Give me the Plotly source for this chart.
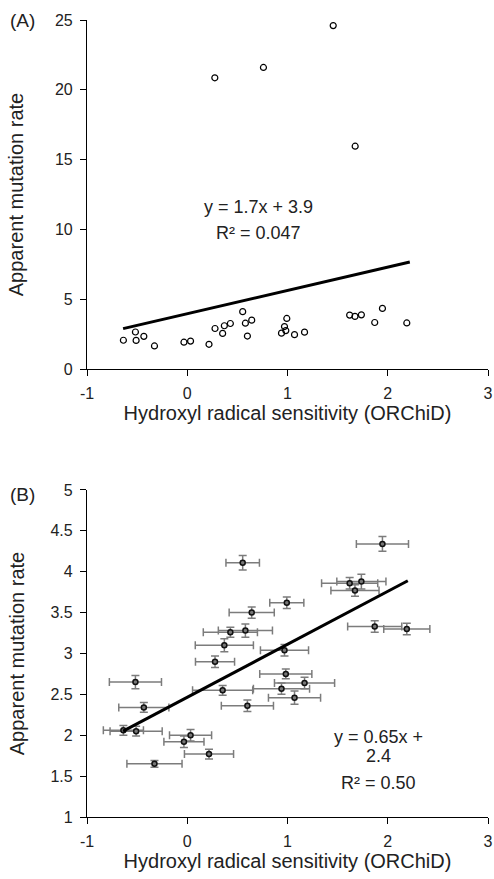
import plotly.graph_objects as go
from plotly.subplots import make_subplots

# ORChiD sensitivity vs apparent mutation rate (panel B points, with SE)
orchid = [-0.637, -0.517, -0.51, -0.433, -0.327, -0.033, 0.033, 0.217, 0.277, 0.353,
          0.37, 0.43, 0.553, 0.58, 0.60, 0.643, 0.94, 0.97, 0.983, 0.993,
          1.07, 1.17, 1.62, 1.673, 1.737, 1.87, 1.947, 2.19]
mut_rate = [2.06, 2.65, 2.05, 2.34, 1.65, 1.92, 2.00, 1.77, 2.90, 2.55,
            3.10, 3.26, 4.11, 3.28, 2.36, 3.50, 2.57, 3.04, 2.75, 3.62,
            2.46, 2.64, 3.86, 3.77, 3.88, 3.33, 4.34, 3.30]
orchid_err = [0.20, 0.26, 0.26, 0.25, 0.275, 0.20, 0.21, 0.245, 0.195, 0.30,
              0.29, 0.27, 0.167, 0.27, 0.26, 0.225, 0.28, 0.24, 0.26, 0.17,
              0.26, 0.30, 0.28, 0.24, 0.245, 0.27, 0.26, 0.23]
rate_err = [0.06, 0.08, 0.06, 0.06, 0.04, 0.07, 0.07, 0.06, 0.07, 0.06,
            0.08, 0.06, 0.09, 0.08, 0.07, 0.07, 0.07, 0.07, 0.06, 0.07,
            0.08, 0.07, 0.07, 0.07, 0.09, 0.07, 0.09, 0.07]

# extra high points shown only in panel A
outlier_x = [0.275, 0.76, 1.456, 1.675]
outlier_y = [20.86, 21.6, 24.6, 15.96]

# fitted lines (end points)
fit_a_x = [-0.64, 2.22]
fit_a_y = [2.89, 7.67]
fit_b_x = [-0.64, 2.2]
fit_b_y = [2.05, 3.89]

x_ticks = [-1, 0, 1, 2, 3]
x_ticktext = ['-1', '0', '1', '2', '3']

FONT = "Liberation Sans, Arial, Helvetica, sans-serif"

fig = make_subplots(rows=2, cols=1, vertical_spacing=0.15)

fig.add_trace(go.Scatter(
    x=orchid + outlier_x, y=mut_rate + outlier_y, mode='markers',
    marker=dict(symbol='circle-open', size=6, color='black', line=dict(width=1.2))
), row=1, col=1)
fig.add_trace(go.Scatter(
    x=fit_a_x, y=fit_a_y, mode='lines', line=dict(color='black', width=3)
), row=1, col=1)

fig.add_trace(go.Scatter(
    x=orchid, y=mut_rate, mode='markers',
    marker=dict(symbol='circle', size=5, color='#777', line=dict(color='#111', width=1.5)),
    error_x=dict(type='data', array=orchid_err, color='#7c7c7c', thickness=1.5, width=4),
    error_y=dict(type='data', array=rate_err, color='#7c7c7c', thickness=1.5, width=4)
), row=2, col=1)
fig.add_trace(go.Scatter(
    x=fit_b_x, y=fit_b_y, mode='lines', line=dict(color='black', width=3)
), row=2, col=1)

axis_style = dict(showgrid=False, zeroline=False, showline=True, linecolor='black',
                  linewidth=1.2, ticks='outside', ticklen=6, tickcolor='black',
                  tickwidth=1.2, tickfont=dict(size=16, color='#222'), ticklabelstandoff=4,
                  ticklabeloverflow='allow', automargin=False)

for r in (1, 2):
    fig.update_xaxes(range=[-1, 3], tickvals=x_ticks, ticktext=x_ticktext, **axis_style,
                     title=dict(text='Hydroxyl radical sensitivity (ORChiD)',
                                font=dict(size=20, color='#222'), standoff=4),
                     row=r, col=1)
fig.update_yaxes(range=[0, 25], dtick=5, **axis_style,
                 title=dict(text='Apparent mutation rate', font=dict(size=20, color='#222'), standoff=25),
                 row=1, col=1)
fig.update_yaxes(range=[1, 5], dtick=0.5, **axis_style,
                 title=dict(text='Apparent mutation rate', font=dict(size=20, color='#222'), standoff=20),
                 row=2, col=1)

fig.update_layout(
    width=494, height=879, showlegend=False,
    paper_bgcolor='white', plot_bgcolor='white',
    margin=dict(l=87, r=6, t=20, b=62),
    font=dict(family=FONT, color='#222'),
    xaxis=dict(domain=[0, 1]), yaxis=dict(domain=[0.5621, 1.0]),
    xaxis2=dict(domain=[0, 1]), yaxis2=dict(domain=[0.0, 0.4103]),
)

fig.add_annotation(text='(A)', x=-0.162, y=1.0, xref='paper', yref='paper',
                   showarrow=False, font=dict(size=19), xanchor='center', yanchor='middle')
fig.add_annotation(text='(B)', x=-0.162, y=0.405, xref='paper', yref='paper',
                   showarrow=False, font=dict(size=19), xanchor='center', yanchor='middle')

fig.add_annotation(text='y = 1.7x + 3.9', x=0.706, y=11.6, xref='x', yref='y',
                   showarrow=False, font=dict(size=18))
fig.add_annotation(text='R² = 0.047', x=0.706, y=9.74, xref='x', yref='y',
                   showarrow=False, font=dict(size=18))
fig.add_annotation(text='y = 0.65x +', x=1.903, y=1.98, xref='x2', yref='y2',
                   showarrow=False, font=dict(size=18))
fig.add_annotation(text='2.4', x=1.903, y=1.746, xref='x2', yref='y2',
                   showarrow=False, font=dict(size=18))
fig.add_annotation(text='R² = 0.50', x=1.903, y=1.416, xref='x2', yref='y2',
                   showarrow=False, font=dict(size=18))

# page body has a default 8px margin; drop it so the figure sits at the corner
fig.write_html("out.html", config={'displayModeBar': False},
               post_script="document.body.style.margin='0';")
